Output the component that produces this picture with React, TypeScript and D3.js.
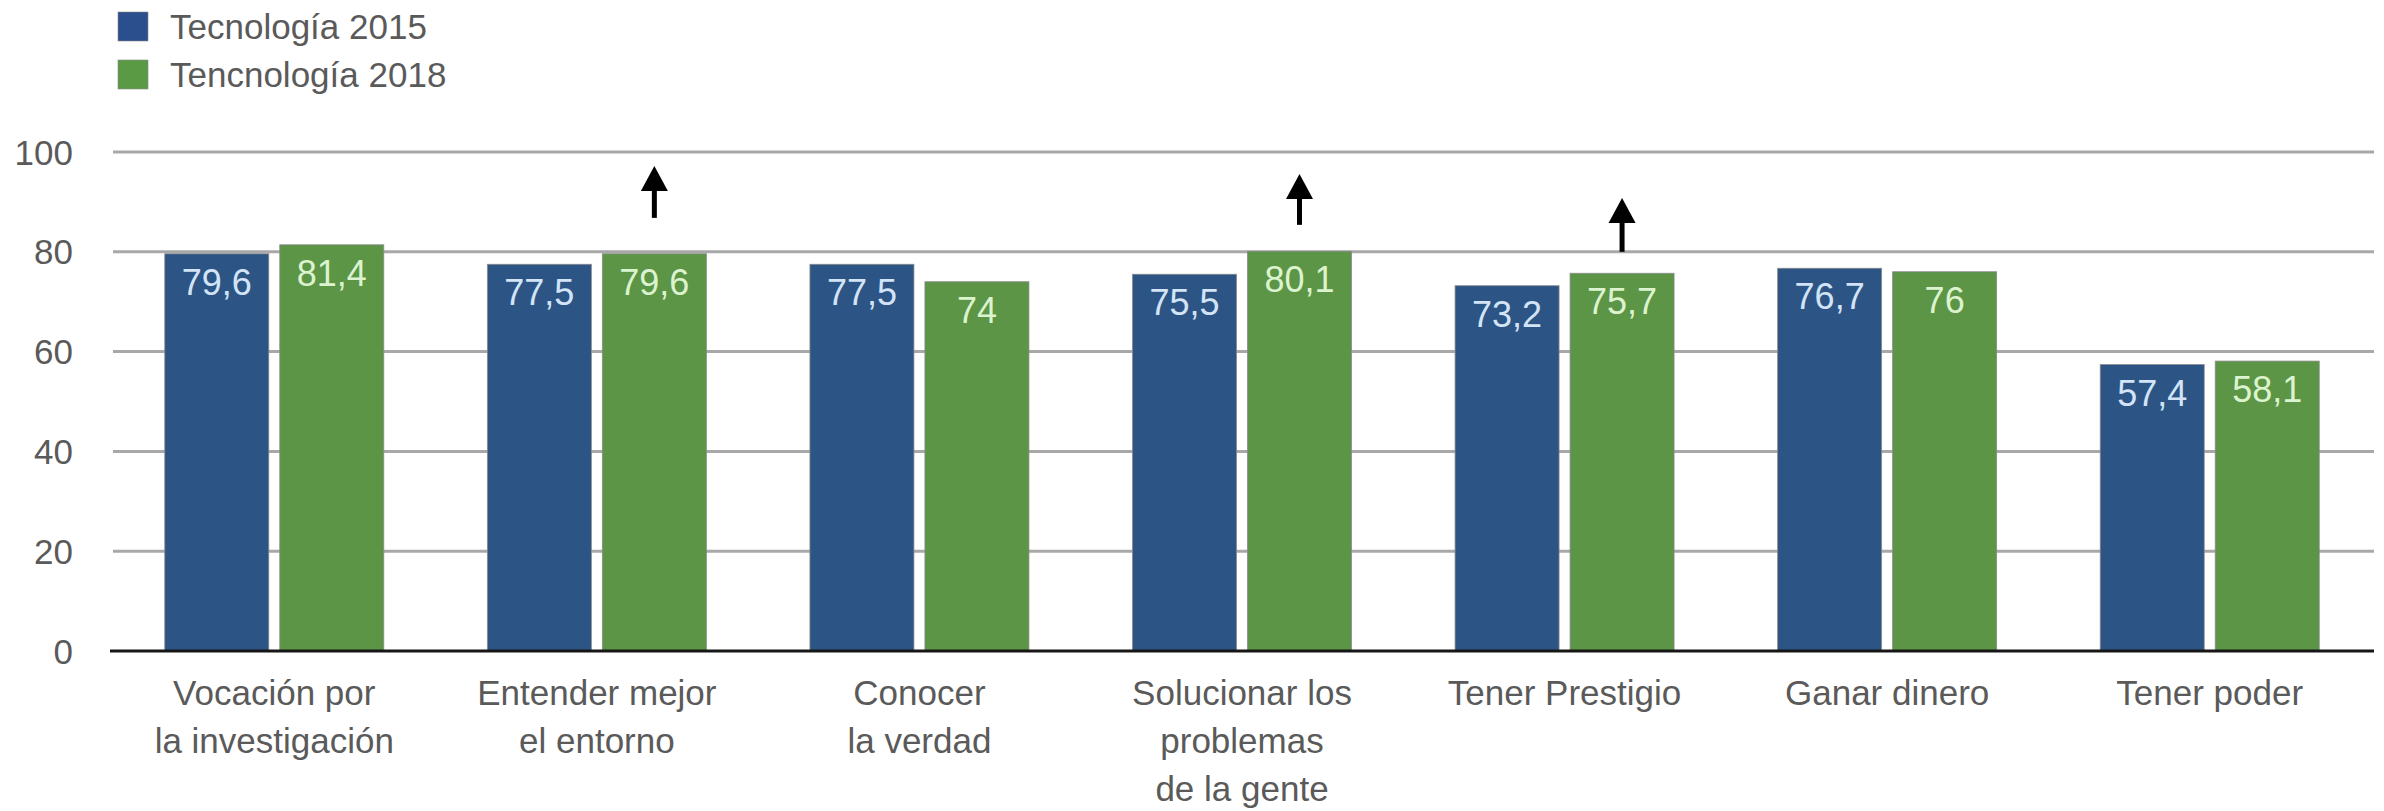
import React from "react";
import * as d3 from "d3";

const categories: string[][] = [
  ["Vocación por", "la investigación"],
  ["Entender mejor", "el entorno"],
  ["Conocer", "la verdad"],
  ["Solucionar los", "problemas", "de la gente"],
  ["Tener Prestigio"],
  ["Ganar dinero"],
  ["Tener poder"],
];
const seriesNames = ["Tecnología 2015", "Tencnología 2018"];
const values2015 = [79.6, 77.5, 77.5, 75.5, 73.2, 76.7, 57.4];
const values2018 = [81.4, 79.6, 74, 80.1, 75.7, 76, 58.1];
const yTicks = [0, 20, 40, 60, 80, 100];
// arrows above 2018 bars: [category index, from value, to value]
const arrowCats = [1, 3, 4];
const arrowFrom = [86.8, 85.4, 80.0];
const arrowTo = [97.2, 95.6, 90.8];

const W = 2384;
const H = 811;
const FONT = "'Liberation Sans', Arial, sans-serif";
const barColors = ["#2c5586", "#5c9546"];
const legendColors = ["#2b4f8c", "#5a9a44"];
const labelColors = ["#d3e4f7", "#dcf3cf"];
const textColor = "#5a5a5a";

export default function App() {
  const keys = categories.map((c) => c.join(" "));
  const x = d3.scaleBand<string>().domain(keys).range([113, 2371]).padding(0);
  const groupW = 219;
  const x1 = d3
    .scaleBand<number>()
    .domain([0, 1])
    .range([-groupW / 2, groupW / 2])
    .paddingInner(11 / 115)
    .paddingOuter(0);
  const y = d3.scaleLinear().domain([0, 100]).range([651, 152]);
  const series = [values2015, values2018];
  const fmt = (v: number) => String(v).replace(".", ",");
  const cx = (i: number) => (x(keys[i]) as number) + x.bandwidth() / 2;

  return (
    <svg
      width={W}
      height={H}
      style={{ position: "absolute", left: 0, top: 0, background: "#fff" }}
      fontFamily={FONT}
    >
      {/* legend */}
      {seriesNames.map((name, i) => (
        <g key={name}>
          <rect x={118} y={12 + i * 48} width={30} height={29} fill={legendColors[i]} stroke="#888" strokeWidth={0.6} />
          <text x={170} y={39 + i * 48} fontSize={35} fill={textColor}>
            {name}
          </text>
        </g>
      ))}

      {/* gridlines */}
      {yTicks.filter((t) => t > 0).map((t) => (
        <line key={t} x1={113} x2={2374} y1={y(t)} y2={y(t)} stroke="#a8a8a8" strokeWidth={3} />
      ))}
      {/* y tick labels */}
      {yTicks.map((t) => (
        <text key={t} x={73} y={y(t)} dy="0.36em" textAnchor="end" fontSize={35} fill={textColor}>
          {t}
        </text>
      ))}

      {/* bars */}
      {keys.map((k, ci) => (
        <g key={k}>
          {series.map((vals, si) => {
            const bx = cx(ci) + (x1(si) as number);
            const by = y(vals[ci]);
            return (
              <g key={si}>
                <rect
                  x={bx}
                  y={by}
                  width={x1.bandwidth()}
                  height={y(0) - by}
                  fill={barColors[si]}
                  stroke="#8a8a8a"
                  strokeWidth={0.8}
                />
                <text
                  x={bx + x1.bandwidth() / 2}
                  y={by + 41}
                  textAnchor="middle"
                  fontSize={36}
                  fill={labelColors[si]}
                >
                  {fmt(vals[ci])}
                </text>
              </g>
            );
          })}
        </g>
      ))}

      {/* x axis */}
      <line x1={110} x2={2374} y1={y(0)} y2={y(0)} stroke="#161616" strokeWidth={3} />

      {/* x labels */}
      {categories.map((lines, ci) => (
        <text key={ci} textAnchor="middle" fontSize={35} fill={textColor}>
          {lines.map((ln, li) => (
            <tspan key={li} x={cx(ci)} y={705 + li * 48}>
              {ln}
            </tspan>
          ))}
        </text>
      ))}

      {/* arrows */}
      {arrowCats.map((ci, ai) => {
        const ax = cx(ci) + (x1(1) as number) + x1.bandwidth() / 2;
        const yb = y(arrowFrom[ai]);
        const yt = y(arrowTo[ai]);
        const headH = 25;
        const headW = 27;
        return (
          <g key={ai}>
            <line x1={ax} x2={ax} y1={yb} y2={yt + headH - 2} stroke="#000" strokeWidth={5} />
            <path
              d={`M${ax},${yt} L${ax - headW / 2},${yt + headH} L${ax + headW / 2},${yt + headH} Z`}
              fill="#000"
            />
          </g>
        );
      })}
    </svg>
  );
}
